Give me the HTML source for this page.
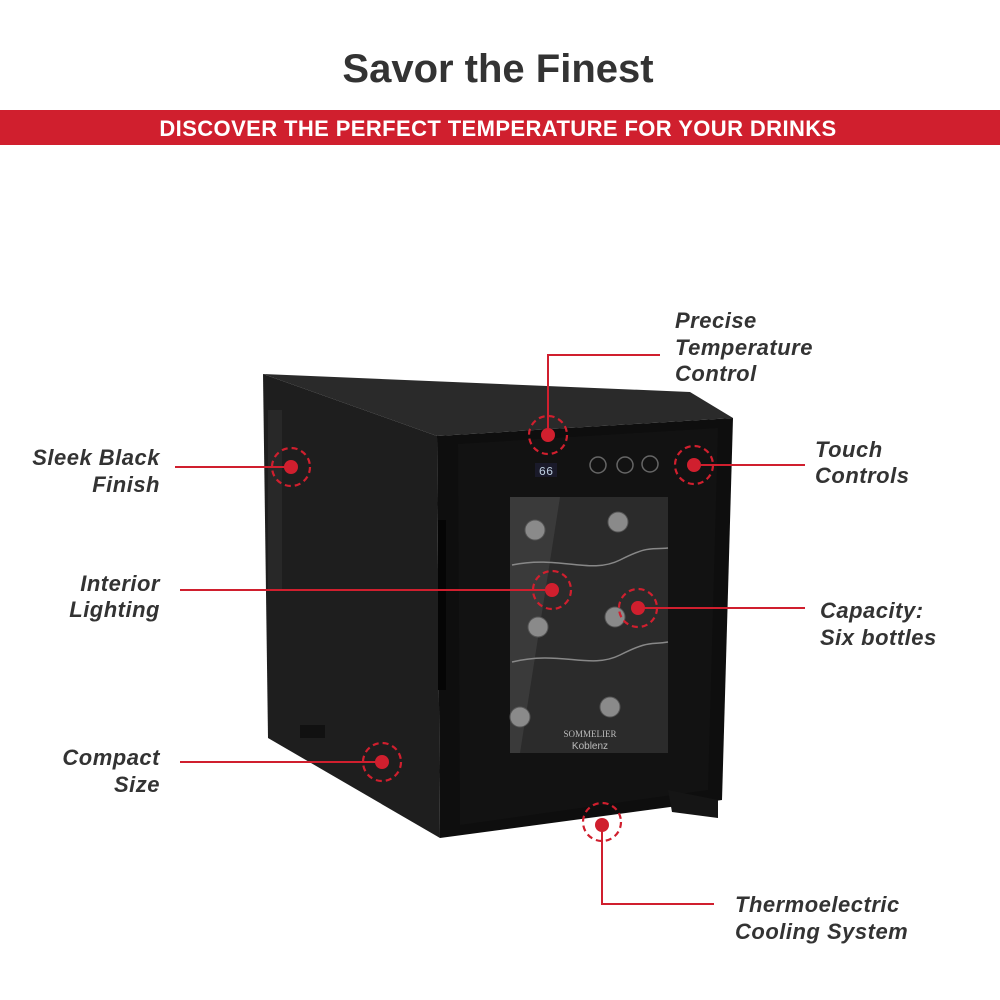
<!DOCTYPE html>
<html><head><meta charset="utf-8"><style>
html,body{margin:0;padding:0;background:#fff;}
svg{display:block}
.t{font-family:"Liberation Sans","DejaVu Sans",sans-serif;font-style:italic;font-weight:bold;font-size:22px;fill:#333;letter-spacing:0.5px}
</style></head><body>
<svg width="1000" height="1000" viewBox="0 0 1000 1000" xmlns="http://www.w3.org/2000/svg">
<rect width="1000" height="1000" fill="#fff"/>
<text x="498" y="82" text-anchor="middle" font-family="Liberation Sans, sans-serif" font-weight="bold" font-size="40" fill="#333">Savor the Finest</text>
<rect x="0" y="110" width="1000" height="35" fill="#d01f2e"/>
<text x="498" y="136" text-anchor="middle" font-family="Liberation Sans, sans-serif" font-weight="bold" font-size="22" fill="#fff" letter-spacing="0.4">DISCOVER THE PERFECT TEMPERATURE FOR YOUR DRINKS</text>

<!-- fridge -->
<polygon points="263,374 690,392 733,418 437,436" fill="#2a2a2a"/>
<polygon points="263,374 437,436 440,838 268,738" fill="#1e1e1e"/>
<rect x="268" y="410" width="14" height="180" fill="#282828"/>
<polygon points="300,738 325,738 325,725 300,725" fill="#111"/>
<polygon points="437,436 733,418 722,800 440,838" fill="#0e0e0e"/>
<polygon points="458,444 718,428 708,790 460,825" fill="#121212"/>
<rect x="438" y="520" width="8" height="170" fill="#050505"/>
<polygon points="668,790 718,800 718,818 672,812" fill="#151515"/>
<rect x="510" y="497" width="158" height="256" fill="#2b2b2b"/>
<polygon points="510,497 560,497 520,753 510,753" fill="#3a3a3a"/>
<path d="M512,565 C560,555 590,575 620,560 S650,550 668,548" stroke="#888" stroke-width="1.5" fill="none"/>
<path d="M512,662 C560,650 590,670 620,655 S650,645 668,642" stroke="#888" stroke-width="1.5" fill="none"/>
<g fill="#8a8a8a" stroke="#555">
<circle cx="535" cy="530" r="10"/><circle cx="618" cy="522" r="10"/>
<circle cx="538" cy="627" r="10"/><circle cx="615" cy="617" r="10"/>
<circle cx="520" cy="717" r="10"/><circle cx="610" cy="707" r="10"/>
</g>
<text x="590" y="737" text-anchor="middle" font-family="Liberation Serif, serif" font-size="9" fill="#bbb">SOMMELIER</text>
<text x="590" y="749" text-anchor="middle" font-family="Liberation Sans, sans-serif" font-size="10" fill="#bbb">Koblenz</text>
<rect x="535" y="463" width="22" height="14" fill="#1a1a2a"/>
<text x="546" y="475" text-anchor="middle" font-family="Liberation Mono, monospace" font-size="12" fill="#bcd">66</text>
<g fill="none" stroke="#666" stroke-width="1.5">
<circle cx="598" cy="465" r="8"/><circle cx="625" cy="465" r="8"/><circle cx="650" cy="464" r="8"/>
</g>

<!-- callouts -->
<g stroke="#d01f2e" stroke-width="2" fill="none">
<polyline points="548,433 548,355 660,355"/>
<line x1="175" y1="467" x2="291" y2="467"/>
<line x1="694" y1="465" x2="805" y2="465"/>
<line x1="180" y1="590" x2="552" y2="590"/>
<line x1="638" y1="608" x2="805" y2="608"/>
<line x1="180" y1="762" x2="382" y2="762"/>
<polyline points="602,822 602,904 714,904"/>
</g>
<g stroke="#d01f2e" stroke-width="2.2" fill="none" stroke-dasharray="6,4">
<circle cx="548" cy="435" r="19"/><circle cx="291" cy="467" r="19"/>
<circle cx="694" cy="465" r="19"/><circle cx="552" cy="590" r="19"/>
<circle cx="638" cy="608" r="19"/><circle cx="382" cy="762" r="19"/>
<circle cx="602" cy="822" r="19"/>
</g>
<g fill="#d01f2e">
<circle cx="548" cy="435" r="7"/><circle cx="291" cy="467" r="7"/>
<circle cx="694" cy="465" r="7"/><circle cx="552" cy="590" r="7"/>
<circle cx="638" cy="608" r="7"/><circle cx="382" cy="762" r="7"/>
<circle cx="602" cy="825" r="7"/>
</g>

<text class="t" x="675" y="328">Precise</text>
<text class="t" x="675" y="355">Temperature</text>
<text class="t" x="675" y="381">Control</text>
<text class="t" x="160" y="465" text-anchor="end">Sleek Black</text>
<text class="t" x="160" y="492" text-anchor="end">Finish</text>
<text class="t" x="815" y="457">Touch</text>
<text class="t" x="815" y="483">Controls</text>
<text class="t" x="160" y="591" text-anchor="end">Interior</text>
<text class="t" x="160" y="617" text-anchor="end">Lighting</text>
<text class="t" x="820" y="618">Capacity:</text>
<text class="t" x="820" y="645">Six bottles</text>
<text class="t" x="160" y="765" text-anchor="end">Compact</text>
<text class="t" x="160" y="792" text-anchor="end">Size</text>
<text class="t" x="735" y="912">Thermoelectric</text>
<text class="t" x="735" y="939">Cooling System</text>
</svg>
</body></html>
